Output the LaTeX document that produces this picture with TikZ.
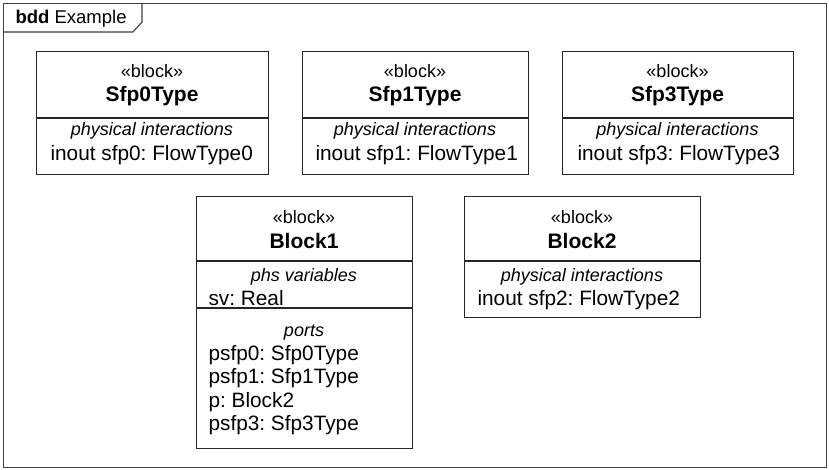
\documentclass[tikz,border=0pt]{standalone}
\usepackage{fontspec}
\setmainfont{Liberation Sans}
\frenchspacing
\begin{document}
\begin{tikzpicture}[x=1pt,y=-1pt,
  line width=1.1pt,
  box/.style={draw=black!85, line width=1.1pt, anchor=north west, inner sep=0pt},
  ster/.style={font=\fontsize{18}{20}\selectfont, anchor=base, inner sep=0pt},
  bname/.style={font=\fontsize{21}{24}\selectfont\bfseries, anchor=base, inner sep=0pt},
  ctitle/.style={font=\fontsize{18}{20}\selectfont\itshape, anchor=base, inner sep=0pt},
  body/.style={font=\fontsize{20.8}{23}\selectfont, anchor=base west, inner sep=0pt},
  divline/.style={draw=black!85, line width=1.1pt}
]
\useasboundingbox (0,0) rectangle (829,470);
% frame
\node[box, draw=black!75, minimum width=823pt, minimum height=464pt] (frame) at (3,3) {};
\draw[draw=black!75, line width=1.1pt] (3,32) -- (133,32) -- (142,22) -- (142,3);
\node[anchor=base west, inner sep=0pt, font=\fontsize{18.5}{20}\selectfont] (title) at (15,24) {\textbf{bdd} Example};

% Sfp0Type
\node[box, minimum width=232pt, minimum height=123pt] (s0) at (36,51) {};
\draw[divline] (36,118) -- (268,118);
\node[ster] (s0st) at (152,78) {«block»};
\node[bname] (s0nm) at (152,102) {Sfp0Type};
\node[ctitle] (s0ct) at (152,136) {physical interactions};
\node[body] (s0b) at (50,161) {inout sfp0: FlowType0};

% Sfp1Type
\node[box, minimum width=226pt, minimum height=123pt] (s1) at (302,51) {};
\draw[divline] (302,118) -- (528,118);
\node[ster] (s1st) at (415,78) {«block»};
\node[bname] (s1nm) at (415,102) {Sfp1Type};
\node[ctitle] (s1ct) at (415,136) {physical interactions};
\node[body] (s1b) at (315,161) {inout sfp1: FlowType1};

% Sfp3Type
\node[box, minimum width=231pt, minimum height=123pt] (s3) at (562,51) {};
\draw[divline] (562,118) -- (793,118);
\node[ster] (s3st) at (677.5,78) {«block»};
\node[bname] (s3nm) at (677.5,102) {Sfp3Type};
\node[ctitle] (s3ct) at (677.5,136) {physical interactions};
\node[body] (s3b) at (577,161) {inout sfp3: FlowType3};

% Block1
\node[box, minimum width=216pt, minimum height=252pt] (b1) at (196,196) {};
\draw[divline] (196,261) -- (412,261);
\draw[divline] (196,308) -- (412,308);
\node[ster] (b1st) at (304,224) {«block»};
\node[bname] (b1nm) at (304,248) {Block1};
\node[ctitle] (b1ct) at (304,281) {phs variables};
\node[body] (b1v) at (208,305) {sv: Real};
\node[ctitle] (b1pt) at (304,336) {ports};
\node[body] (b1p0) at (208,360) {psfp0: Sfp0Type};
\node[body] (b1p1) at (208,383.5) {psfp1: Sfp1Type};
\node[body] (b1p) at (208,407) {p: Block2};
\node[body] (b1p3) at (208,430.5) {psfp3: Sfp3Type};

% Block2
\node[box, minimum width=236pt, minimum height=121pt] (b2) at (464,196) {};
\draw[divline] (464,261) -- (700,261);
\node[ster] (b2st) at (582,224) {«block»};
\node[bname] (b2nm) at (582,248) {Block2};
\node[ctitle] (b2ct) at (582,281) {physical interactions};
\node[body] (b2b) at (477,305) {inout sfp2: FlowType2};
\end{tikzpicture}
\end{document}
